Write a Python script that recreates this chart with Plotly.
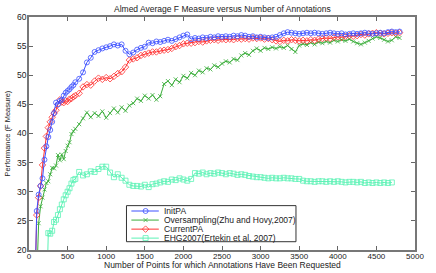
import plotly.graph_objects as go

x_points = [80, 100, 125, 150, 175, 200, 225, 250, 275, 300, 325, 350, 375, 400, 425, 450, 475, 500,
            525, 550, 575, 600] + list(range(650, 4801, 50))

init_pa = [15, 26.7, 29.5, 31.0, 32.3, 35.5, 37.8, 39.4, 40.6, 42.0, 43.5, 45.3, 45.0, 45.6, 45.8, 46.5,
           47.0, 47.3, 47.6, 48.0, 48.3, 48.8,
           49.4, 50.5, 52.2, 53.0, 54.0, 54.3, 54.6, 54.8, 55.0, 55.3, 55.1, 55.3, 54.2, 53.6, 53.9, 54.4,
           54.7, 54.9, 55.6, 55.5, 55.8, 55.7, 55.9, 56.1, 55.9, 56.2, 56.5, 56.8, 57.0, 56.2, 56.4, 56.3,
           56.5, 56.4, 56.6, 56.5, 56.7, 56.6, 56.7, 56.6, 56.8, 56.7, 56.9, 56.8, 56.6, 56.7, 56.5, 56.6,
           56.5, 56.4, 56.5, 56.6, 56.9, 57.2, 57.4, 57.3, 57.2, 57.1, 57.2, 57.3, 57.2, 57.3, 57.2, 57.1,
           57.2, 57.3, 57.2, 57.1, 57.2, 57.0, 57.1, 57.2, 57.1, 57.2, 57.3, 57.2, 57.1, 57.2, 57.3, 57.2,
           57.4, 57.5, 57.4, 57.5]

oversampling = [None, 15, 24.6, 27.5, 29.0, 30.4, 31.5, 31.8, 33.0, 34.1, 34.0, 34.5, 36.3, 35.4, 36.4,
                35.6, 37.0, 37.9, 38.5, 39.9, 40.4, 40.8,
                41.6, 42.6, 43.6, 42.8, 43.5, 43.0, 43.8, 42.7, 43.5, 44.3, 43.6, 44.5, 43.9, 44.8, 45.2,
                46.0, 45.6, 46.5, 46.0, 46.6, 45.8, 46.4, 48.5, 49.0, 48.3, 49.3, 48.8, 49.9, 49.5, 50.4,
                50.0, 50.8, 50.5, 51.2, 51.0, 51.7, 51.4, 52.0, 52.4, 52.2, 52.8, 52.6, 53.4, 53.8, 53.5,
                54.2, 54.6, 54.2, 54.7, 54.5, 54.8, 54.6, 54.9, 54.7, 55.1, 54.5, 54.0, 55.1, 55.4, 55.2,
                55.6, 55.3, 55.7, 55.5, 55.8, 55.6, 56.0, 55.8, 56.1, 55.9, 56.2, 55.8, 55.5, 55.3, 55.6,
                55.9, 56.3, 56.6, 56.4, 56.1, 55.8, 56.0, 56.6, 56.4]

current_pa = [15, 26.0, 29.0, 31.0, 34.6, 37.5, 39.5, 41.0, 42.0, 42.8, 43.5, 44.0, 45.0, 45.8, 45.4,
              45.3, 45.6, 45.5, 45.9, 46.0, 46.3, 46.5,
              46.9, 48.0, 48.4, 48.3, 49.0, 49.5, 49.3, 49.6, 49.4, 49.8, 50.3, 50.6, 51.4, 52.6, 52.8,
              53.0, 53.4, 53.6, 53.8, 54.0, 54.0, 54.2, 54.3, 54.4, 54.6, 54.9, 55.1, 55.4, 55.5, 55.5,
              55.6, 55.8, 55.7, 55.9, 56.0, 56.1, 56.0, 56.2, 56.1, 56.2, 56.1, 56.3, 56.2, 56.3, 56.2,
              56.4, 56.3, 56.4, 56.2, 56.3, 56.1, 55.9, 55.8, 56.0, 55.9, 56.1, 56.0, 55.9, 56.0, 55.9,
              56.1, 56.0, 56.2, 56.3, 56.4, 56.3, 56.5, 56.6, 56.5, 56.7, 56.8, 56.7, 56.8, 57.0, 56.9,
              57.1, 57.2, 57.3, 57.2, 57.1, 57.2, 57.3, 57.2, 57.3]

ehg2007 = [None, None, None, None, None, None, 10, 22.9, 22.8, 23.3, 24.8, 25.2, 26.0, 27.0, 27.8, 28.7,
           29.4, 30.0, 30.6, 31.4, 32.0, 32.2,
           33.4, 32.8, 33.0, 33.5, 33.4, 33.9, 34.3, 34.3, 33.3, 32.5, 33.0, 32.4, 31.9, 31.2, 31.0,
           31.0, 30.9, 31.2, 30.8, 31.3, 31.4, 31.6, 31.8, 31.7, 32.1, 32.0, 32.3, 32.1, 31.9, 32.2,
           33.2, 33.1, 33.3, 33.0, 33.2, 33.1, 33.3, 33.2, 33.0, 33.2, 33.1, 32.9, 33.0, 32.9, 32.7,
           32.6, 32.5, 32.5, 32.4, 32.3, 32.4, 32.3, 32.3, 32.4, 32.3, 32.3, 32.2, 32.2, 31.9, 31.8,
           31.8, 31.7, 31.8, 31.8, 31.7, 31.8, 31.7, 31.8, 31.7, 31.6, 31.7, 31.7, 31.6, 31.7, 31.5,
           31.6, 31.5, 31.6, 31.5, 31.6, 31.5, 31.6]

series_names = ["InitPA", "Oversampling(Zhu and Hovy,2007)", "CurrentPA", "EHG2007(Ertekin et al, 2007)"]
series_values = [init_pa, oversampling, current_pa, ehg2007]
colors = ["#3c50ff", "#3aad3a", "#ff3030", "#5cf2b5"]
symbols = ["circle-open", "x-thin-open", "diamond-open", "square-open"]
sizes = [5, 4, 5, 5]

x_ticks = [0, 500, 1000, 1500, 2000, 2500, 3000, 3500, 4000, 4500, 5000]
y_ticks = [20, 25, 30, 35, 40, 45, 50, 55, 60]

FONT = "Liberation Sans, Arial, sans-serif"
fig = go.Figure()

order = [3, 1, 2, 0]
for i in order:
    fig.add_trace(go.Scatter(
        x=x_points, y=series_values[i], mode="lines+markers", name=series_names[i],
        line=dict(color=colors[i], width=1),
        marker=dict(symbol=symbols[i], size=sizes[i], color=colors[i], line=dict(width=0.8, color=colors[i])),
        showlegend=False, connectgaps=False,
    ))

# custom legend on a pixel-mapped overlay axis
L_left, L_right, L_top, L_bottom = 128.5, 301.5, 208.5, 245.5
row_y = [214.0, 223.3, 232.6, 241.8]
for k in range(4):
    fig.add_trace(go.Scatter(
        x=[133.5, 161.5], y=[row_y[k], row_y[k]], mode="lines", xaxis="x2", yaxis="y2",
        line=dict(color=colors[k], width=1), showlegend=False, hoverinfo="skip"))
    fig.add_trace(go.Scatter(
        x=[148.0], y=[row_y[k]], mode="markers", xaxis="x2", yaxis="y2",
        marker=dict(symbol=symbols[k], size=sizes[k], color=colors[k], line=dict(width=0.8, color=colors[k])),
        showlegend=False, hoverinfo="skip"))

shapes = [dict(type="rect", xref="x2", yref="y2", x0=L_left, x1=L_right, y0=L_top, y1=L_bottom,
               line=dict(color="#333333", width=1), fillcolor="rgba(0,0,0,0)", layer="below")]

annotations = []
for k in range(4):
    annotations.append(dict(xref="x2", yref="y2", x=165, y=row_y[k], text=series_names[k],
                            showarrow=False, xanchor="left", yanchor="middle",
                            font=dict(family=FONT, size=8.5, color="#222222")))
annotations += [
    dict(xref="paper", yref="paper", x=0.5, y=1.0, yshift=8, text="Almed Average F Measure versus Number of Annotations",
         showarrow=False, xanchor="center", yanchor="middle", font=dict(family=FONT, size=8.5, color="#222222")),
    dict(xref="paper", yref="paper", x=0.5, y=0, yshift=-15, text="Number of Points for which Annotations Have Been Requested",
         showarrow=False, xanchor="center", yanchor="middle", font=dict(family=FONT, size=8.5, color="#222222")),
    dict(xref="paper", yref="paper", x=0, xshift=-22, y=0.5, text="Performance (F Measure)", textangle=-90,
         showarrow=False, xanchor="center", yanchor="middle", font=dict(family=FONT, size=7.5, color="#222222")),
]

axis_common = dict(showgrid=False, zeroline=False, ticks="inside", ticklen=4, tickcolor="#666666",
                   showline=True, linecolor="#777777", linewidth=1.5, mirror="ticks")

fig.update_layout(
    width=436, height=273,
    margin=dict(l=29, r=13, t=15, b=19),
    paper_bgcolor="white", plot_bgcolor="white",
    xaxis=dict(range=[0, 5000], tickvals=x_ticks, ticktext=[str(t) for t in x_ticks],
               tickfont=dict(family=FONT, size=8, color="#222222"), ticklabelstandoff=-2, **axis_common),
    yaxis=dict(range=[20, 60], tickvals=y_ticks, ticktext=[str(t) for t in y_ticks],
               tickfont=dict(family=FONT, size=8.5, color="#222222"), ticklabelstandoff=-1, **axis_common),
    xaxis2=dict(range=[29, 423], overlaying="x", visible=False, fixedrange=True),
    yaxis2=dict(range=[254, 15], overlaying="y", visible=False, fixedrange=True),
    shapes=shapes, annotations=annotations,
    showlegend=False,
)

fig.write_html("out.html", config={"displayModeBar": False},
               post_script="document.body.style.margin='0';document.body.style.overflow='hidden';")
